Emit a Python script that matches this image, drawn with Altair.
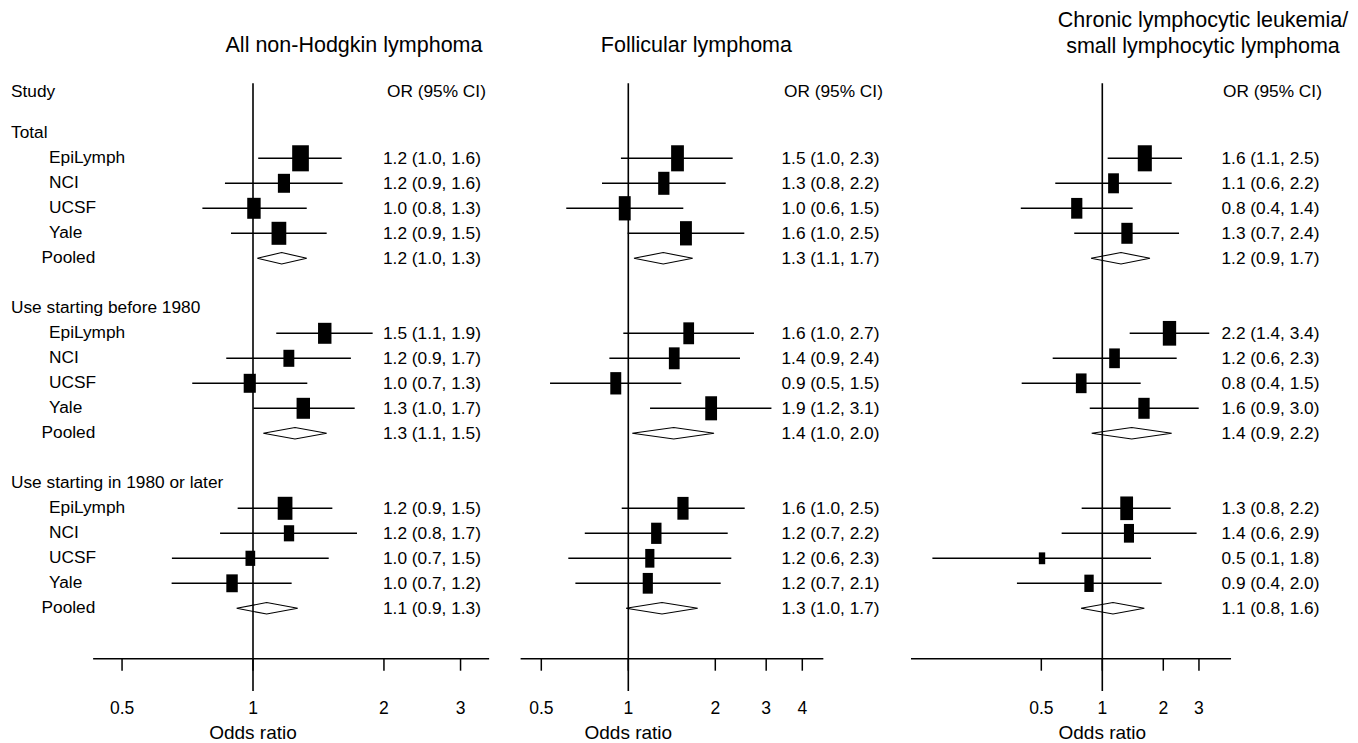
import altair as alt
import pandas as pd

# ------------------------------------------------------------------ data
groups = ["Total", "Use starting before 1980", "Use starting in 1980 or later"]
studies = ["EpiLymph", "NCI", "UCSF", "Yale"]

titles = ["All non-Hodgkin lymphoma",
          "Follicular lymphoma",
          "Chronic lymphocytic leukemia/\nsmall lymphocytic lymphoma"]

# All non-Hodgkin lymphoma (study rows: Total x4, before 1980 x4, 1980+ x4)
nhl_or = [1.286, 1.178, 1.005, 1.147, 1.462, 1.209, 0.983, 1.305, 1.185, 1.210, 0.986, 0.895]
nhl_lo = [1.028, 0.862, 0.765, 0.890, 1.131, 0.868, 0.725, 1.002, 0.922, 0.840, 0.651, 0.650]
nhl_hi = [1.599, 1.607, 1.329, 1.477, 1.884, 1.679, 1.333, 1.713, 1.522, 1.734, 1.493, 1.227]
nhl_w = [68, 36, 44, 53, 44, 29, 36, 44, 53, 26, 23, 32]
nhl_pool_or = [1.164, 1.249, 1.075]
nhl_pool_lo = [1.023, 1.056, 0.917]
nhl_pool_hi = [1.329, 1.477, 1.267]
nhl_text = ["1.2 (1.0, 1.6)", "1.2 (0.9, 1.6)", "1.0 (0.8, 1.3)", "1.2 (0.9, 1.5)", "1.2 (1.0, 1.3)",
            "1.5 (1.1, 1.9)", "1.2 (0.9, 1.7)", "1.0 (0.7, 1.3)", "1.3 (1.0, 1.7)", "1.3 (1.1, 1.5)",
            "1.2 (0.9, 1.5)", "1.2 (0.8, 1.7)", "1.0 (0.7, 1.5)", "1.0 (0.7, 1.2)", "1.1 (0.9, 1.3)"]

# Follicular lymphoma
fl_or = [1.480, 1.327, 0.972, 1.583, 1.618, 1.442, 0.905, 1.935, 1.546, 1.250, 1.187, 1.168]
fl_lo = [0.943, 0.811, 0.610, 0.995, 0.961, 0.860, 0.536, 1.189, 0.949, 0.707, 0.620, 0.656]
fl_hi = [2.297, 2.173, 1.550, 2.520, 2.722, 2.435, 1.525, 3.128, 2.528, 2.208, 2.272, 2.088]
fl_w = [68, 53, 59, 59, 48, 48, 50, 58, 52, 45, 35, 43]
fl_pool_or = [1.321, 1.436, 1.308]
fl_pool_lo = [1.046, 1.032, 0.982]
fl_pool_hi = [1.670, 1.980, 1.738]
fl_text = ["1.5 (1.0, 2.3)", "1.3 (0.8, 2.2)", "1.0 (0.6, 1.5)", "1.6 (1.0, 2.5)", "1.3 (1.1, 1.7)",
           "1.6 (1.0, 2.7)", "1.4 (0.9, 2.4)", "0.9 (0.5, 1.5)", "1.9 (1.2, 3.1)", "1.4 (1.0, 2.0)",
           "1.6 (1.0, 2.5)", "1.2 (0.7, 2.2)", "1.2 (0.6, 2.3)", "1.2 (0.7, 2.1)", "1.3 (1.0, 1.7)"]

# CLL / SLL
cll_or = [1.621, 1.136, 0.748, 1.324, 2.146, 1.149, 0.787, 1.606, 1.319, 1.354, 0.504, 0.860]
cll_lo = [1.063, 0.586, 0.396, 0.727, 1.365, 0.569, 0.400, 0.867, 0.791, 0.630, 0.145, 0.379]
cll_hi = [2.475, 2.200, 1.412, 2.392, 3.372, 2.329, 1.547, 2.991, 2.176, 2.921, 1.740, 1.964]
cll_w = [68, 40, 43, 44, 61, 39, 39, 44, 56, 35, 14, 30]
cll_pool_or = [1.237, 1.397, 1.129]
cll_pool_lo = [0.880, 0.886, 0.785]
cll_pool_hi = [1.719, 2.200, 1.612]
cll_text = ["1.6 (1.1, 2.5)", "1.1 (0.6, 2.2)", "0.8 (0.4, 1.4)", "1.3 (0.7, 2.4)", "1.2 (0.9, 1.7)",
            "2.2 (1.4, 3.4)", "1.2 (0.6, 2.3)", "0.8 (0.4, 1.5)", "1.6 (0.9, 3.0)", "1.4 (0.9, 2.2)",
            "1.3 (0.8, 2.2)", "1.4 (0.6, 2.9)", "0.5 (0.1, 1.8)", "0.9 (0.4, 2.0)", "1.1 (0.8, 1.6)"]

ticks_nhl = [0.5, 1, 2, 3]
ticks_fl = [0.5, 1, 2, 3, 4]
ticks_cll = [0.5, 1, 2, 3]
axis_nhl = [0.429, 3.49]
axis_fl = [0.424, 4.73]
axis_cll = [0.1137, 4.32]

# ------------------------------------------------------------------ layout / style
H = 727
ROW0 = 125.3      # px of row 0 inside the plot
ROWH = 25.0
FONT = "Liberation Sans"
FS = 17.3
ys = alt.Scale(domain=[-ROW0 / ROWH, (H - ROW0) / ROWH], reverse=True, nice=False, zero=False)


def row_of(gi, k):
    return gi * 7 + k


def build_panel(est, lo, hi, w, p_or, p_lo, p_hi, labels, ticks, axis_ext,
                W, x_one, px_dec, aspect, title, title_x, title_y,
                val_x, hdr_x, left=False):
    xs = alt.Scale(type="log", nice=False,
                   domain=[10 ** ((0 - x_one) / px_dec), 10 ** ((W - x_one) / px_dec)])

    def X(f):
        return alt.X(f, type="quantitative", scale=xs, axis=None)

    def Y(f):
        return alt.Y(f, type="quantitative", scale=ys, axis=None)

    st_rows, p_rows, lab_rows = [], [], []
    for gi in range(3):
        for si in range(4):
            st_rows.append(row_of(gi, si + 1))
        p_rows.append(row_of(gi, 5))
    for gi in range(3):
        for k in range(1, 6):
            lab_rows.append(row_of(gi, k))

    df_st = pd.DataFrame({"row": st_rows, "est": est, "lo": lo, "hi": hi, "w": w})
    df_lab = pd.DataFrame({"row": lab_rows, "label": labels})

    dpts = []
    half = 0.23
    for i, r in enumerate(p_rows):
        pts = [(p_lo[i], r), (p_or[i], r - half), (p_hi[i], r), (p_or[i], r + half), (p_lo[i], r)]
        for k, (xv, yv) in enumerate(pts):
            dpts.append({"g": i, "k": k, "x": xv, "y": yv})
    df_dia = pd.DataFrame(dpts)

    base = alt.Chart(df_st)
    layers = []

    # reference line at OR = 1
    layers.append(alt.Chart(pd.DataFrame({"x": [1]})).mark_rule(color="black", strokeWidth=1.6)
                  .encode(x=X("x"), y=alt.value(ROW0 - 2 * ROWH), y2=alt.value(683)))
    # axis line
    layers.append(alt.Chart(pd.DataFrame({"a": [axis_ext[0]], "b": [axis_ext[1]]}))
                  .mark_rule(color="black", strokeWidth=1.5)
                  .encode(x=X("a"), x2="b", y=alt.value(650.7)))
    # ticks
    df_t = pd.DataFrame({"tick": ticks, "tl": [("%g" % t) for t in ticks]})
    layers.append(alt.Chart(df_t).mark_rule(color="black", strokeWidth=1.5)
                  .encode(x=X("tick"), y=alt.value(650.7), y2=alt.value(662.7)))
    layers.append(alt.Chart(df_t).mark_text(fontSize=17.5, baseline="alphabetic", align="center",
                                            color="black", font=FONT)
                  .encode(x=X("tick"), y=alt.value(705.5), text="tl:N"))
    layers.append(alt.Chart(pd.DataFrame({"x": [1], "t": ["Odds ratio"]}))
                  .mark_text(fontSize=19, baseline="alphabetic", align="center", color="black", font=FONT)
                  .encode(x=X("x"), y=alt.value(730.5), text="t:N"))
    # CI lines
    layers.append(base.mark_rule(color="black", strokeWidth=1.4)
                  .encode(x=X("lo"), x2="hi", y=Y("row")))
    # boxes
    path = "M-{a},-1L{a},-1L{a},1L-{a},1Z".format(a=aspect)
    layers.append(base.mark_point(filled=True, shape=path, color="black", opacity=1, strokeWidth=0)
                  .encode(x=X("est"), y=Y("row"),
                          size=alt.Size("w:Q", scale=alt.Scale(domain=[0, 100], range=[0, 1000]),
                                        legend=None)))
    # pooled diamonds
    layers.append(alt.Chart(df_dia).mark_line(color="black", strokeWidth=1.1)
                  .encode(x=X("x"), y=Y("y"), detail="g:N", order="k:Q"))
    # OR (95% CI) column
    layers.append(alt.Chart(df_lab).mark_text(fontSize=FS, baseline="alphabetic", align="left",
                                              dy=5.5, color="black", font=FONT)
                  .encode(x=alt.value(val_x), y=Y("row"), text="label:N"))
    layers.append(alt.Chart(pd.DataFrame({"t": ["OR (95% CI)"]}))
                  .mark_text(fontSize=FS, baseline="alphabetic", align="left", color="black", font=FONT)
                  .encode(x=alt.value(hdr_x), y=alt.value(88.7), text="t:N"))
    # panel title
    layers.append(alt.Chart(pd.DataFrame({"t": [title]}))
                  .mark_text(fontSize=21.5, baseline="alphabetic", align="center", color="black",
                             font=FONT, lineBreak="\n", lineHeight=25.4)
                  .encode(x=alt.value(title_x), y=alt.value(title_y), text="t:N"))

    if left:
        df_g = pd.DataFrame({"row": [row_of(gi, 0) for gi in range(3)], "t": groups})
        df_s = pd.DataFrame({"row": st_rows, "t": studies * 3})
        df_p = pd.DataFrame({"row": p_rows, "t": ["Pooled"] * 3})
        txt = dict(fontSize=FS, baseline="alphabetic", align="left", color="black", font=FONT)
        layers.append(alt.Chart(pd.DataFrame({"t": ["Study"]})).mark_text(**txt)
                      .encode(x=alt.value(3), y=alt.value(88.7), text="t:N"))
        layers.append(alt.Chart(df_g).mark_text(dy=4.2, **txt)
                      .encode(x=alt.value(3), y=Y("row"), text="t:N"))
        layers.append(alt.Chart(df_s).mark_text(dy=5, **txt)
                      .encode(x=alt.value(41), y=Y("row"), text="t:N"))
        layers.append(alt.Chart(df_p).mark_text(dy=5, **txt)
                      .encode(x=alt.value(33.5), y=Y("row"), text="t:N"))

    return alt.layer(*layers).properties(width=W, height=H)


p1 = build_panel(nhl_or, nhl_lo, nhl_hi, nhl_w, nhl_pool_or, nhl_pool_lo, nhl_pool_hi, nhl_text,
                 ticks_nhl, axis_nhl, W=497, x_one=245, px_dec=435, aspect=0.64,
                 title=titles[0], title_x=346, title_y=44, val_x=375, hdr_x=379, left=True)
p2 = build_panel(fl_or, fl_lo, fl_hi, fl_w, fl_pool_or, fl_pool_lo, fl_pool_hi, fl_text,
                 ticks_fl, axis_fl, W=390, x_one=123.3, px_dec=289, aspect=0.49,
                 title=titles[1], title_x=191.4, title_y=44, val_x=276.5, hdr_x=279)
p3 = build_panel(cll_or, cll_lo, cll_hi, cll_w, cll_pool_or, cll_pool_lo, cll_pool_hi, cll_text,
                 ticks_cll, axis_cll, W=455, x_one=207.3, px_dec=202.6, aspect=0.54,
                 title=titles[2], title_x=308, title_y=19.3, val_x=326.5, hdr_x=328)

chart = (alt.hconcat(p1, p2, p3, spacing=0, bounds="flush", padding=0)
         .configure(background="white", view=alt.ViewConfig(stroke=None)))

chart.save("out.html", embed_options={"renderer": "svg", "actions": False})
